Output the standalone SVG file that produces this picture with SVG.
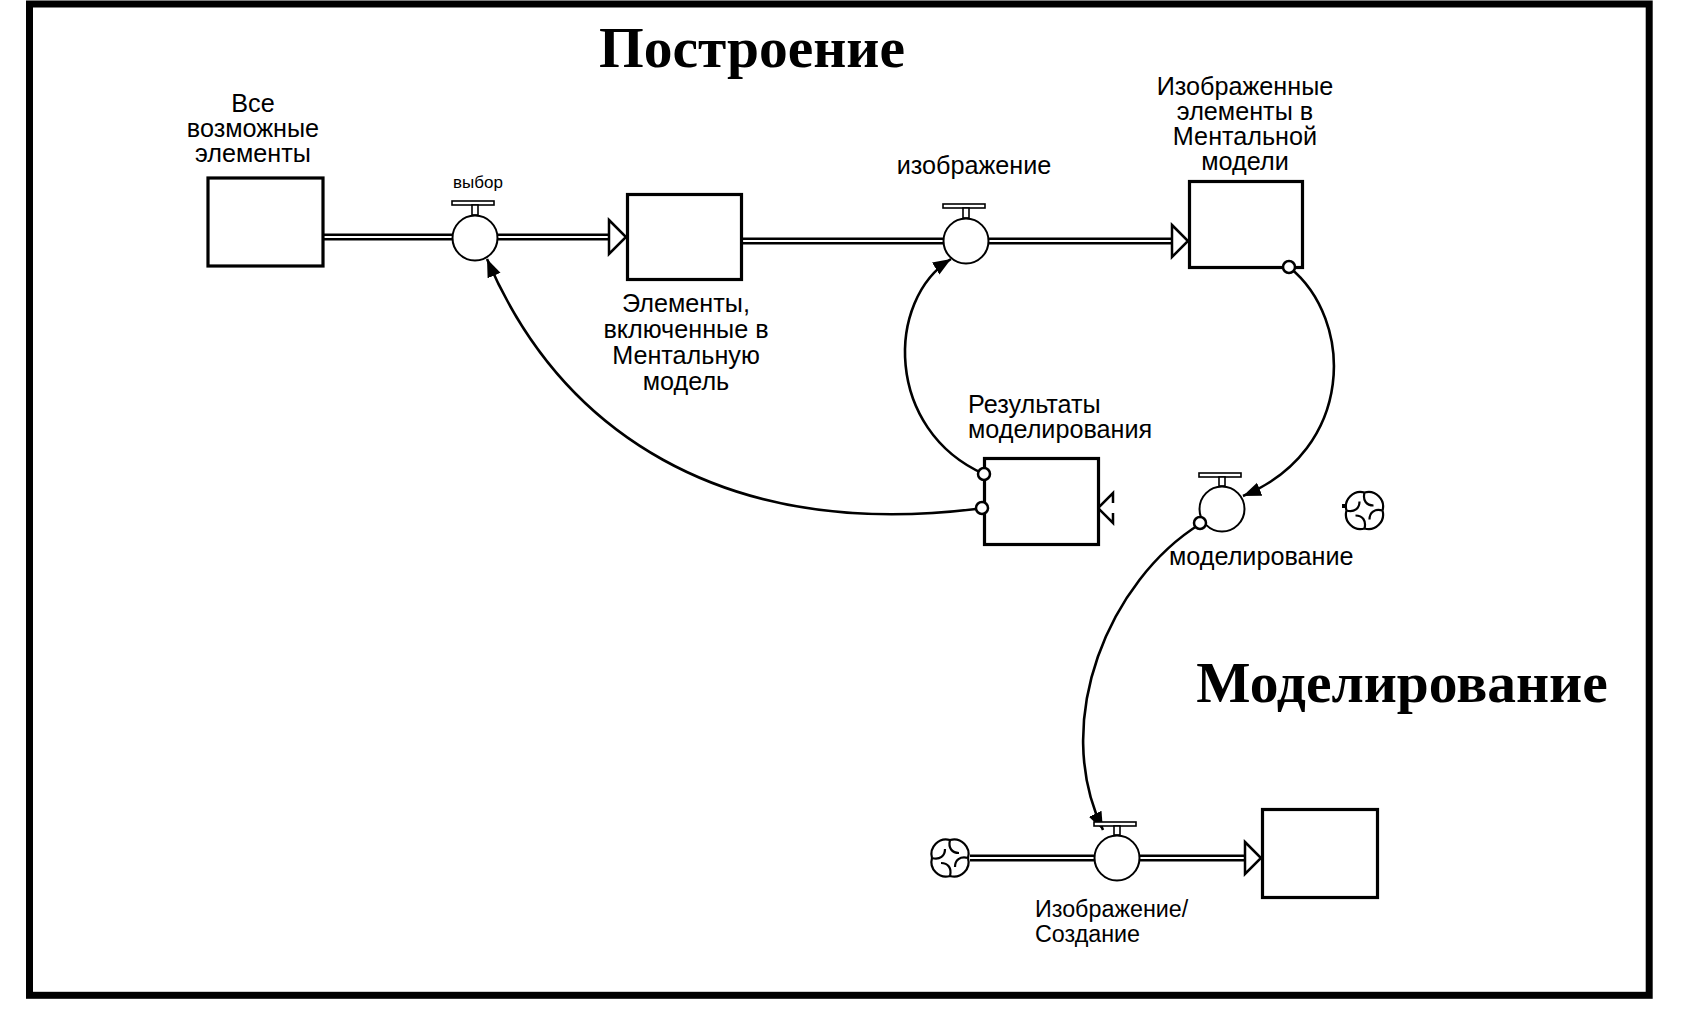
<svg xmlns="http://www.w3.org/2000/svg" width="1690" height="1018" viewBox="0 0 1690 1018">
<style>
.lbl{font-family:"Liberation Sans",Arial,sans-serif;font-size:25.2px;fill:#000}
.title{font-family:"Liberation Serif","Times New Roman",serif;font-weight:bold;font-size:57.5px;fill:#000}
.stock{fill:#fff;stroke:#000;stroke-width:3.2}
.pipeo{stroke:#000;stroke-width:7;fill:none}
.pipei{stroke:#fff;stroke-width:2;fill:none}
.phead{fill:#fff;stroke:#000;stroke-width:2.5;stroke-linejoin:miter}
.valve{fill:#fff;stroke:#000;stroke-width:2}
.handle{fill:#fff;stroke:#000;stroke-width:1.6}
.conn{fill:none;stroke:#000;stroke-width:2.6}
.dot{fill:#fff;stroke:#000;stroke-width:2.5}
.cloud{fill:#fff;stroke:#000;stroke-width:2.2}
</style>
<defs>
<marker id="ah" markerUnits="userSpaceOnUse" markerWidth="22" markerHeight="16" refX="18" refY="7" orient="auto">
<path d="M0,0 L18,7 L0,14 z" fill="#000"/>
</marker>
<g id="cloudsym">
<path class="cloud" d="M0,-18 A14.6,14.6 0 0 1 18,0 A14.6,14.6 0 0 1 0,18 A14.6,14.6 0 0 1 -18,0 A14.6,14.6 0 0 1 0,-18 Z"/>
<path class="cloud" fill="none" d="M0,-18 C-2,-10 2,-5 9,-5 M18,0 C10,-2 5,2 5,9 M0,18 C2,10 -2,5 -9,5 M-18,0 C-10,2 -5,-2 -5,-9"/>
</g>
</defs>
<rect x="0" y="0" width="1690" height="1018" fill="#fff"/>
<rect x="29.5" y="4" width="1619.7" height="991.3" fill="none" stroke="#000" stroke-width="7"/>

<g id="titles">
<text class="title" x="752" y="67" text-anchor="middle">Построение</text>
<text class="title" x="1402" y="702" text-anchor="middle">Моделирование</text>
</g>

<g id="connectors">
<path class="pipeo" d="M324,237 H609"/>
<path class="pipei" d="M324,237 H609"/>
<polygon class="phead" points="609,220 626,237 609,254"/>
<path class="pipeo" d="M743,241 H1172"/>
<path class="pipei" d="M743,241 H1172"/>
<polygon class="phead" points="1172,225 1188,241 1172,257"/>
<path class="pipeo" d="M970,858 H1245"/>
<path class="pipei" d="M970,858 H1245"/>
<polygon class="phead" points="1245,842 1261,858 1245,874"/>
<polyline class="phead" fill="none" points="1113,503 1113,493 1098,508 1113,523 1113,513"/>
<path class="conn" d="M976,509 C720,540 560,430 487,259" marker-end="url(#ah)"/>
<path class="conn" d="M984,474 C885,430 885,300 951,259" marker-end="url(#ah)"/>
<path class="conn" d="M1289,267 C1355,320 1355,450 1243,496" marker-end="url(#ah)"/>
<path class="conn" d="M1200,524 C1110,580 1050,720 1103,830" marker-end="url(#ah)"/>
</g>

<g id="stock-all">
<rect class="stock" x="208" y="178" width="115" height="88"/>
<text class="lbl" text-anchor="middle" x="253" y="112">Все</text>
<text class="lbl" text-anchor="middle" x="253" y="137">возможные</text>
<text class="lbl" text-anchor="middle" x="253" y="162">элементы</text>
</g>

<g id="valve-vybor">
<rect class="handle" x="452" y="201" width="42" height="4"/>
<rect class="handle" x="472" y="205" width="6" height="10"/>
<circle class="valve" cx="475" cy="238" r="22.5"/>
<text class="lbl" style="font-size:17px" text-anchor="middle" x="478" y="188">выбор</text>
</g>

<g id="stock-included">
<rect class="stock" x="627.5" y="194.5" width="114" height="85"/>
<text class="lbl" text-anchor="middle" x="686" y="312">Элементы,</text>
<text class="lbl" text-anchor="middle" x="686" y="338">включенные в</text>
<text class="lbl" text-anchor="middle" x="686" y="364">Ментальную</text>
<text class="lbl" text-anchor="middle" x="686" y="390">модель</text>
</g>

<g id="valve-izobr">
<rect class="handle" x="943" y="204" width="42" height="4"/>
<rect class="handle" x="963" y="208" width="6" height="10"/>
<circle class="valve" cx="966" cy="241" r="22.5"/>
<text class="lbl" text-anchor="middle" x="974" y="174">изображение</text>
</g>

<g id="stock-depicted">
<rect class="stock" x="1189.5" y="181.5" width="113" height="86"/>
<text class="lbl" text-anchor="middle" x="1245" y="95">Изображенные</text>
<text class="lbl" text-anchor="middle" x="1245" y="120">элементы в</text>
<text class="lbl" text-anchor="middle" x="1245" y="145">Ментальной</text>
<text class="lbl" text-anchor="middle" x="1245" y="170">модели</text>
<circle class="dot" cx="1289" cy="267" r="6"/>
</g>

<g id="stock-results">
<rect class="stock" x="984.5" y="458.5" width="114" height="86"/>
<text class="lbl" x="968" y="413">Результаты</text>
<text class="lbl" x="968" y="438">моделирования</text>
<circle class="dot" cx="984" cy="474" r="6"/>
<circle class="dot" cx="982" cy="508" r="6"/>
</g>

<g id="valve-model">
<rect class="handle" x="1199" y="473" width="42" height="4"/>
<rect class="handle" x="1219" y="477" width="6" height="9"/>
<circle class="valve" cx="1222" cy="509" r="22.5"/>
<circle class="dot" cx="1200" cy="523" r="6"/>
<text class="lbl" x="1169" y="565">моделирование</text>
</g>

<g id="cloud-right">
<use href="#cloudsym" transform="translate(1364.5,510.5)"/>
<rect x="1342" y="504" width="3" height="4" fill="#000"/>
</g>

<g id="cloud-left">
<use href="#cloudsym" transform="translate(950,858)"/>
</g>

<g id="valve-create">
<rect class="handle" x="1094" y="822" width="42" height="4"/>
<rect class="handle" x="1114" y="826" width="6" height="9"/>
<circle class="valve" cx="1117" cy="858" r="22.5"/>
<text class="lbl" style="font-size:23.3px" x="1035" y="917">Изображение/</text>
<text class="lbl" style="font-size:23.3px" x="1035" y="942">Создание</text>
</g>

<g id="stock-result4">
<rect class="stock" x="1262.5" y="809.5" width="115" height="88"/>
</g>
</svg>
